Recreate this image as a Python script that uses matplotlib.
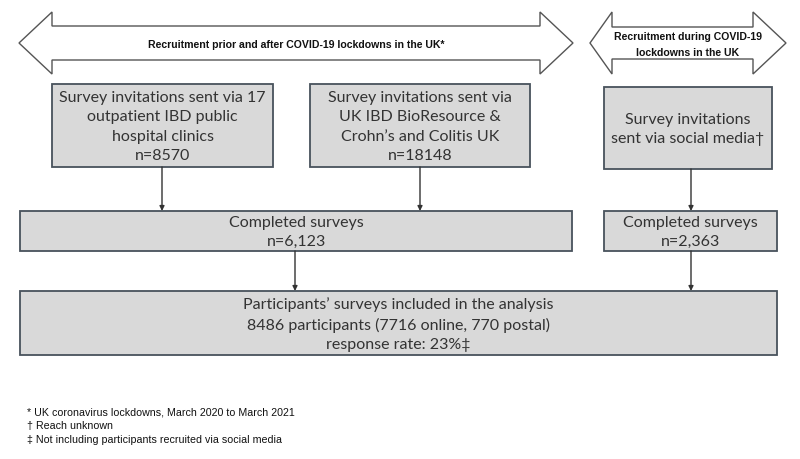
import matplotlib.pyplot as plt
from matplotlib.patches import Polygon, Rectangle
from matplotlib import font_manager

# --- texts and counts ---
band_labels = ['Recruitment prior and after COVID-19 lockdowns in the UK*',
               'Recruitment during COVID-19\nlockdowns in the UK']
invite_labels = ['Survey invitations sent via 17\noutpatient IBD public\nhospital clinics\nn=8570',
                 'Survey invitations sent via\nUK IBD BioResource &\nCrohn\u2019s and Colitis UK\nn=18148',
                 'Survey invitations\nsent via social media\u2020']
completed_labels = ['Completed surveys\nn=6,123', 'Completed surveys\nn=2,363']
final_label = ('Participants\u2019 surveys included in the analysis\n'
               '8486 participants (7716 online, 770 postal)\nresponse rate: 23%\u2021')
footnotes = ['* UK coronavirus lockdowns, March 2020 to March 2021',
             '\u2020 Reach unknown',
             '\u2021 Not including participants recruited via social media']

names = {f.name for f in font_manager.fontManager.ttflist}
narrow = 'Liberation Sans Narrow' if 'Liberation Sans Narrow' in names else 'Liberation Sans'
body = 'Lato'

edge = '#48525c'
fill = '#d9d9d9'

fig = plt.figure(figsize=(8, 4.6), dpi=100)
ax = fig.add_axes([0, 0, 1, 1])
ax.set_xlim(0, 800)
ax.set_ylim(460, 0)
ax.axis('off')


def double_arrow(x0, x1, hx0, hx1, yc, shaft, head):
    pts = [(x0, yc), (hx0, yc - head), (hx0, yc - shaft), (hx1, yc - shaft),
           (hx1, yc - head), (x1, yc), (hx1, yc + head), (hx1, yc + shaft),
           (hx0, yc + shaft), (hx0, yc + head)]
    ax.add_patch(Polygon(pts, closed=True, facecolor='white', edgecolor='#555555', lw=1.0))


def box(x0, y0, x1, y1, text, fs=11.5, ls=1.5):
    ax.add_patch(Rectangle((x0, y0), x1 - x0, y1 - y0, facecolor=fill, edgecolor=edge, lw=1.3))
    ax.text((x0 + x1) / 2, (y0 + y1) / 2 + 0.5, text, ha='center', va='center',
            fontsize=fs, family=body, color='#333333', linespacing=ls)


def arrow_down(x, y0, y1):
    ax.annotate('', xy=(x, y1), xytext=(x, y0),
                arrowprops=dict(arrowstyle='-|>', color='#333333', lw=1.0, mutation_scale=7,
                                shrinkA=0, shrinkB=0))


# recruitment bands
double_arrow(19, 573, 52, 540, 44, 17, 31)
double_arrow(590, 786, 612, 753, 44, 16, 31)
ax.text(296, 45, band_labels[0], ha='center', va='center', fontsize=7.6, family=narrow,
        fontweight='bold', color='#111111')
ax.text(688, 45, band_labels[1], ha='center', va='center', fontsize=7.6, family=narrow,
        fontweight='bold', color='#111111', linespacing=1.7)

# invitation boxes
box(52, 85, 273, 168, invite_labels[0])
box(310, 85, 530, 168, invite_labels[1])
box(604, 88, 772, 170, invite_labels[2])

arrow_down(162, 168, 212)
arrow_down(420, 168, 212)
arrow_down(691, 170, 212)

# completed
box(20, 212, 572, 252, completed_labels[0])
box(604, 212, 777, 252, completed_labels[1])

arrow_down(295, 252, 292)
arrow_down(691, 252, 292)

# final
box(20, 292, 777, 356, final_label)

# footnotes
for i, t in enumerate(footnotes):
    ax.text(27, 413 + i * 13.5, t, ha='left', va='center', fontsize=7.7, family='Liberation Sans',
            color='#111111')

fig.savefig('out.png', dpi=100, facecolor='white')
